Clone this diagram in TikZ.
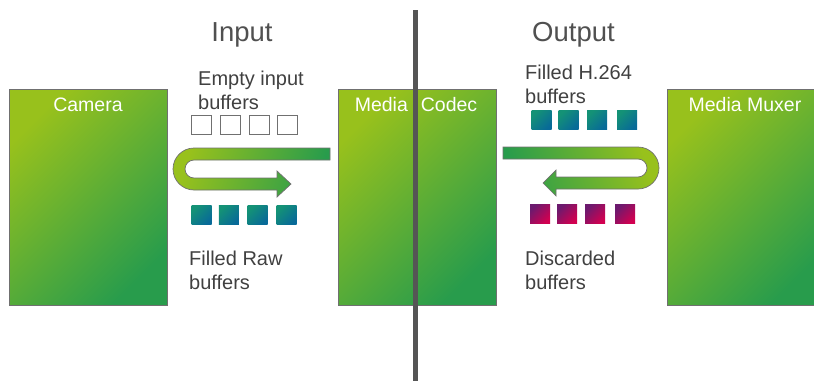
\documentclass[tikz,border=0pt]{standalone}
\usepackage{fontspec}
\setmainfont{Liberation Sans}

% palette
\definecolor{gA}{RGB}{152,193,28}
\definecolor{gB}{RGB}{40,156,76}
\definecolor{tA}{RGB}{20,146,118}
\definecolor{tB}{RGB}{8,106,152}
\definecolor{mA}{RGB}{108,26,110}
\definecolor{mB}{RGB}{210,0,80}
\definecolor{edge}{RGB}{112,112,112}
\definecolor{txt}{RGB}{64,64,64}
\definecolor{hdr}{RGB}{80,80,80}
\definecolor{divider}{RGB}{85,85,85}

\begin{document}
\begin{tikzpicture}[x=1pt,y=-1pt,
  stage/.style={draw=edge, line width=0.8pt, top color=gA, bottom color=gB,
    shading angle=45, minimum width=158pt, minimum height=216pt,
    inner sep=0pt, anchor=north west},
  stagetitle/.style={text=white, font=\fontsize{19.5}{23}\selectfont,
    inner sep=0pt, anchor=base},
  heading/.style={text=hdr, font=\fontsize{27.5}{33}\selectfont,
    inner sep=0pt, anchor=base},
  lbl/.style={text=txt, font=\fontsize{20}{24}\selectfont,
    inner sep=0pt, anchor=base west},
  buf/.style={minimum width=20pt, minimum height=19pt, inner sep=0pt},
  emptybuf/.style={buf, draw=edge, line width=0.7pt, fill=white},
  rawbuf/.style={buf, top color=tA, bottom color=tB, shading angle=45},
  discbuf/.style={buf, top color=mA, bottom color=mB, shading angle=45},
  uarrow/.style={draw=edge, line width=0.7pt, top color=gA, bottom color=gB},
  divline/.style={draw=divider, line width=4.5pt}
]
\useasboundingbox (0,0) rectangle (814,383);
\clip (0,0) rectangle (814,383);

% processing stages
\node[stage] (camera) at (9,89) {};
\node[stage] (codec)  at (338,89) {};
\node[stage] (muxer)  at (667,89) {};

\node[stagetitle] (cameratitle) at (88,111) {Camera};
\node[stagetitle] (codectitle)  at (416,111) {Media\hspace{13pt}Codec};
\node[stagetitle] (muxertitle)  at (745,111) {Media Muxer};

% headings
\node[heading] (inputhdr)  at (242,41.5) {Input};
\node[heading] (outputhdr) at (573.5,41.5) {Output};

% input side: empty buffers go to the camera, filled raw buffers come back
\foreach \i/\x in {1/201.5,2/230.2,3/258.9,4/287.6}
  \node[emptybuf] (empty\i) at (\x,124.5) {};
\foreach \i/\x in {1/201.5,2/228.9,3/257.6,4/286.5}
  \node[rawbuf] (raw\i) at (\x,215) {};

\shadedraw[uarrow, shading angle=72]
  (330,148) -- (194,148)
  arc[start angle=270, end angle=90, radius=21]
  -- (277,190) -- (277,197) -- (291,184) -- (277,171) -- (277,178)
  -- (194,178)
  arc[start angle=90, end angle=270, radius=9]
  -- (330,160) -- cycle;

\node[lbl] (emptyA) at (198,85)  {Empty input};
\node[lbl] (emptyB) at (198,109) {buffers};
\node[lbl] (rawA)   at (189,265) {Filled Raw};
\node[lbl] (rawB)   at (189,289) {buffers};

% output side: encoded buffers go to the muxer, used ones are discarded
\foreach \i/\x in {1/541.5,2/568.5,3/597,4/627}
  \node[rawbuf] (enc\i) at (\x,120) {};
\foreach \i/\x in {1/540,2/567,3/595,4/625}
  \node[discbuf] (disc\i) at (\x,214) {};

\shadedraw[uarrow, shading angle=-72]
  (503,147) -- (638,147)
  arc[start angle=270, end angle=450, radius=21]
  -- (556,189) -- (556,196) -- (543,183) -- (556,170) -- (556,177)
  -- (638,177)
  arc[start angle=90, end angle=-90, radius=9]
  -- (503,159) -- cycle;

\node[lbl] (encA)  at (525,79)  {Filled H.264};
\node[lbl] (encB)  at (525,103) {buffers};
\node[lbl] (discA) at (525,265) {Discarded};
\node[lbl] (discB) at (525,289) {buffers};

% divider between input and output
\coordinate (divtop) at (415.5,10);
\coordinate (divbot) at (415.5,381);
\draw[divline] (divtop) -- (divbot);
\end{tikzpicture}
\end{document}
